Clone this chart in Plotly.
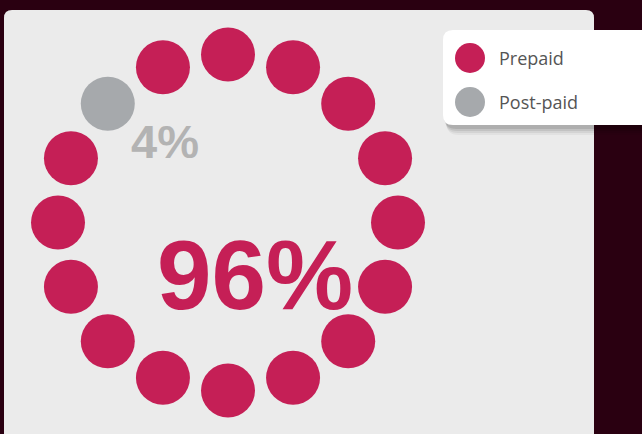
import math
import plotly.graph_objects as go

# Share of subscribers by plan type
categories = ["Prepaid", "Post-paid"]
shares = [96, 4]
share_labels = ["96%", "4%"]
n_dots = 16

RED = "#C51F56"
GREY = "#A6A9AC"
W, H = 642, 434


def rounded_rect(x0, y0, x1, y1, r):
    return (f"M {x0+r},{y0} L {x1-r},{y0} Q {x1},{y0} {x1},{y0+r} "
            f"L {x1},{y1-r} Q {x1},{y1} {x1-r},{y1} L {x0+r},{y1} "
            f"Q {x0},{y1} {x0},{y1-r} L {x0},{y0+r} Q {x0},{y0} {x0+r},{y0} Z")


# number of dots per category (minority gets at least one)
n_minor = max(1, round(shares[1] / 100 * n_dots))
n_major = n_dots - n_minor
dot_cat = [0] * n_major + [1] * n_minor

cx, cy, rx, ry = 228, 222.5, 170, 168
xs, ys = [], []
for k in range(n_dots):
    a = math.radians(112.5 - 22.5 * k)
    xs.append(cx + rx * math.cos(a))
    ys.append(cy - ry * math.sin(a))

fig = go.Figure()
for ci, (name, color) in enumerate(zip(categories, [RED, GREY])):
    idx = [i for i, c in enumerate(dot_cat) if c == ci]
    fig.add_trace(go.Scatter(
        x=[xs[i] for i in idx], y=[ys[i] for i in idx], mode="markers",
        marker=dict(size=54, color=color, line=dict(width=0)),
        name=name, showlegend=False, hoverinfo="name",
    ))

# legend markers
leg_y = [58, 102]
fig.add_trace(go.Scatter(
    x=[470, 470], y=leg_y, mode="markers",
    marker=dict(size=30, color=[RED, GREY], line=dict(width=0)),
    showlegend=False, hoverinfo="skip",
))

shapes = [
    dict(type="path", path=rounded_rect(4, 10, 594, 470, 8),
         fillcolor="#EBEBEB", line=dict(width=0), layer="below"),
]
# legend shadow
for off, op in [(10, 0.04), (8, 0.06), (6, 0.08), (4, 0.1)]:
    shapes.append(dict(type="path", path=rounded_rect(443 + off / 3, 30 + off, 670, 125 + off, 12),
                       fillcolor=f"rgba(0,0,0,{op})", line=dict(width=0), layer="below"))
shapes.append(dict(type="path", path=rounded_rect(443, 30, 670, 125, 10),
                   fillcolor="#FFFFFF", line=dict(width=0), layer="below"))

annotations = [
    dict(x=255, y=312, text=share_labels[0], showarrow=False, xanchor="center", yanchor="bottom",
         yshift=-20, font=dict(family="Liberation Sans", size=98, color=RED, weight="bold")),
    dict(x=165, y=160, text=share_labels[1], showarrow=False, xanchor="center", yanchor="bottom",
         yshift=-10, font=dict(family="Liberation Sans", size=47, color="#B3B3B3", weight="bold")),
]
for name, yy in zip(categories, leg_y):
    annotations.append(dict(x=497, y=yy, text=name, showarrow=False, xanchor="left", yanchor="middle",
                            font=dict(family="Open Sans", size=18, color="#555555")))

fig.update_layout(
    width=W, height=H, margin=dict(l=0, r=0, t=0, b=0),
    paper_bgcolor="#2A0011", plot_bgcolor="rgba(0,0,0,0)",
    xaxis=dict(range=[0, W], visible=False, fixedrange=True),
    yaxis=dict(range=[H, 0], visible=False, fixedrange=True),
    shapes=shapes, annotations=annotations, showlegend=False,
)
fig.write_html("out.html", config={"displayModeBar": False})
